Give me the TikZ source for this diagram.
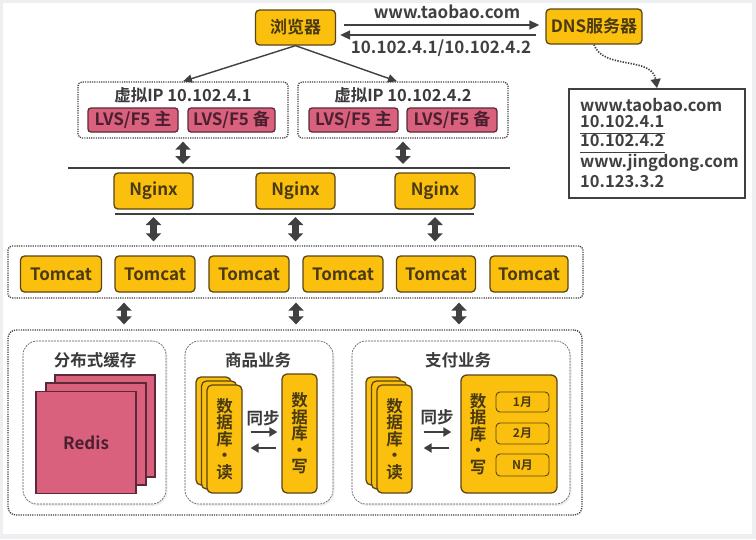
\documentclass[tikz,border=0pt]{standalone}
\usepackage{fontspec}
\setmainfont{Noto Sans CJK SC Bold}
\usetikzlibrary{arrows.meta,shadows}
\definecolor{yfill}{HTML}{FBC00E}
\definecolor{ybord}{HTML}{5A4516}
\definecolor{ytext}{HTML}{4A3A12}
\definecolor{pfill}{HTML}{D9617D}
\definecolor{pbord}{HTML}{5B2937}
\definecolor{ptext}{HTML}{4A2030}
\definecolor{dgray}{HTML}{404040}
\definecolor{bggray}{HTML}{EEEFF1}
\begin{document}
\begin{tikzpicture}[x=1pt,y=-1pt,
  ybox/.style={draw=ybord, fill=yfill, line width=1.3pt, rounded corners=4pt, text=ytext,
    font=\fontsize{17}{19}\selectfont, inner sep=0pt},
  pbox/.style={draw=pbord, fill=pfill, line width=1.3pt, rounded corners=3pt, text=ptext,
    font=\fontsize{17}{19}\selectfont, inner sep=0pt, minimum height=24pt},
  sqbox/.style={draw=pbord, fill=pfill, line width=1.5pt, text=ptext,
    font=\fontsize{17}{19}\selectfont, inner sep=0pt, minimum width=100pt, minimum height=102pt},
  dotbox/.style={draw=dgray, line width=1.3pt, dash pattern=on 1.2pt off 1.1pt, rounded corners=4pt, inner sep=0pt},
  subbox/.style={draw=dgray!90, line width=0.6pt, dash pattern=on 2pt off 1pt, rounded corners=14pt, fill=white,
    inner sep=0pt, minimum height=163pt, drop shadow={opacity=0.12, shadow xshift=1.5pt, shadow yshift=-2pt}},
  lbl/.style={text=dgray, font=\fontsize{17}{19}\selectfont, inner sep=0pt},
  ttl/.style={text=dgray!90!black, font=\fontsize{16.5}{19}\selectfont, inner sep=0pt},
  vtext/.style={align=center, font=\fontsize{16.5}{16.5}\selectfont},
  rdb/.style={ybox, minimum width=35pt, minimum height=108pt, rounded corners=5pt},
  mbox/.style={ybox, line width=0.9pt, minimum width=53pt, font=\fontsize{12}{14}\selectfont},
  arrt/.style={draw=dgray, line width=1.6pt, -{Triangle[width=9pt,length=10pt]}},
  arrs/.style={draw=dgray, line width=1.4pt, -{Triangle[width=8pt,length=9pt]}},
  arrm/.style={draw=dgray, line width=2.2pt, -{Triangle[width=9pt,length=8pt]}},
  dbl/.style={draw=dgray, line width=6.5pt, {Triangle[width=15pt,length=8pt]}-{Triangle[width=15pt,length=8pt]}},
  hline/.style={draw=dgray, line width=1.6pt},
  rectxt/.style={text=dgray, font=\fontsize{16.5}{19}\selectfont, inner sep=0pt, anchor=west}
]
\useasboundingbox (0,0) rectangle (756,539);
\fill[bggray] (0,0) rectangle (756,539);
\fill[white] (3,3) rectangle (752,534);

% top row
\node[ybox, minimum width=80pt, minimum height=35pt] (browser) at (295.5,27.5) {浏览器};
\node[ybox, minimum width=96pt, minimum height=35pt] (dns) at (594,26.5) {DNS服务器};
\draw[arrt, shorten <=8pt, shorten >=6pt] ([yshift=2.5pt]browser.east) -- ([yshift=1.5pt]dns.west);
\draw[arrt, shorten <=9pt, shorten >=4pt] ([yshift=-8.5pt]dns.west) -- ([yshift=-7.5pt]browser.east);
\node[lbl] (lab1) at (447,12) {www.taobao.com};
\node[lbl] (lab2) at (441,48) {10.102.4.1/10.102.4.2};

% DNS record
\node[draw=dgray, line width=2pt, minimum width=176pt, minimum height=109pt, inner sep=0pt] (rec) at (657,143.5) {};
\node[rectxt] (t1) at (580,105) {www.taobao.com};
\node[rectxt] (t2) at (580,122) {10.102.4.1};
\node[rectxt] (t3) at (580,141) {10.102.4.2};
\node[rectxt] (t4) at (580,163) {www.jingdong.com};
\node[rectxt] (t5) at (580,182) {10.123.3.2};
\coordinate (u1) at (0,133);
\coordinate (u2) at (0,152);
\draw[dgray, line width=1pt] (t2.west |- u1) -- (t2.east |- u1);
\draw[dgray, line width=1pt] (t3.west |- u2) -- (t3.east |- u2);
\draw[draw=dgray, line width=1.7pt, dash pattern=on 1.3pt off 1.4pt, -{Triangle[width=10pt,length=9pt]}]
  (dns.south) .. controls (603,70) and (652,56) .. (rec.north);

% virtual IP boxes
\node[dotbox, minimum width=210pt, minimum height=56pt] (vip1) at (183,110) {};
\node[dotbox, minimum width=210pt, minimum height=56pt] (vip2) at (403,110) {};
\node[ttl] (vt1) at (183,95) {虚拟IP 10.102.4.1};
\node[ttl] (vt2) at (403,95) {虚拟IP 10.102.4.2};
\node[pbox, minimum width=90pt] (lvs1) at (133,120) {LVS/F5 主};
\node[pbox, minimum width=87pt] (lvs2) at (231.5,120) {LVS/F5 备};
\node[pbox, minimum width=89pt] (lvs3) at (353.5,120) {LVS/F5 主};
\node[pbox, minimum width=90pt] (lvs4) at (452,120) {LVS/F5 备};
\draw[arrs] (browser.south) -- (vip1.north);
\draw[arrs] (browser.south) -- ([xshift=-6pt]vip2.north);

% nginx layer
\coordinate (h1a) at (68,168);
\coordinate (h1b) at (510,168);
\draw[hline] (h1a) -- (h1b);
\draw[dbl, shorten <=3pt, shorten >=4pt] (vip1.south) -- (vip1.south |- h1a);
\draw[dbl, shorten <=3pt, shorten >=4pt] (vip2.south) -- (vip2.south |- h1a);
\node[ybox, minimum width=79pt, minimum height=36pt] (ng1) at (153.5,191) {Nginx};
\node[ybox, minimum width=79pt, minimum height=36pt] (ng2) at (295.5,191) {Nginx};
\node[ybox, minimum width=80pt, minimum height=36pt] (ng3) at (435,191) {Nginx};
\coordinate (h2a) at (115,214);
\coordinate (h2b) at (474,214);
\draw[hline] (h2a) -- (h2b);

% tomcat layer
\node[dotbox, minimum width=575pt, minimum height=52pt] (tcbox) at (295.5,272) {};
\draw[dbl, shorten <=3pt, shorten >=4pt] (ng1.south |- h2a) -- (ng1.south |- tcbox.north);
\draw[dbl, shorten <=3pt, shorten >=4pt] (ng2.south |- h2a) -- (ng2.south |- tcbox.north);
\draw[dbl, shorten <=3pt, shorten >=4pt] (ng3.south |- h2a) -- (ng3.south |- tcbox.north);
\node[ybox, minimum width=81pt, minimum height=36pt] (tc1) at (61,274) {Tomcat};
\node[ybox, minimum width=80pt, minimum height=36pt] (tc2) at (155,274) {Tomcat};
\node[ybox, minimum width=80pt, minimum height=36pt] (tc3) at (249,274) {Tomcat};
\node[ybox, minimum width=80pt, minimum height=36pt] (tc4) at (343,274) {Tomcat};
\node[ybox, minimum width=79pt, minimum height=36pt] (tc5) at (436,274) {Tomcat};
\node[ybox, minimum width=78pt, minimum height=36pt] (tc6) at (529,274) {Tomcat};

% bottom layer
\node[dotbox, rounded corners=8pt, minimum width=574pt, minimum height=185pt] (bot) at (295,422.5) {};
\coordinate (c1) at (124,0);
\coordinate (c2) at (296,0);
\coordinate (c3) at (459,0);
\draw[dbl, shorten <=4pt, shorten >=5pt] (tcbox.south -| c1) -- (bot.north -| c1);
\draw[dbl, shorten <=4pt, shorten >=5pt] (tcbox.south -| c2) -- (bot.north -| c2);
\draw[dbl, shorten <=4pt, shorten >=5pt] (tcbox.south -| c3) -- (bot.north -| c3);

\node[subbox, minimum width=143pt] (cache) at (94.5,422.5) {};
\node[subbox, minimum width=148pt] (goods) at (259,422.5) {};
\node[subbox, minimum width=218pt] (pay) at (461,422.5) {};
\node[ttl] (ct) at (95,360) {分布式缓存};
\node[ttl] (gt) at (258,360) {商品业务};
\node[ttl] (pt) at (458,360) {支付业务};

% redis
\node[sqbox] (r3) at (105,426) {};
\node[sqbox] (r2) at (96,434) {};
\node[sqbox] (r1) at (86,442.5) {Redis};

% goods DBs
\node[rdb] (gr3) at (213.5,431) {};
\node[rdb] (gr2) at (219,435) {};
\node[rdb, vtext] (gr1) at (224.5,439) {数\\据\\库\\·\\读};
\node[ybox, vtext, minimum width=35pt, minimum height=119pt, rounded corners=5pt] (gw) at (299.5,433.5) {数\\据\\库\\·\\写};
\node[ttl] (gs) at (263,418) {同步};
\coordinate (ya) at (0,432);
\coordinate (yb) at (0,448);
\draw[arrm, shorten <=8pt, shorten >=4pt] (gr1.east |- ya) -- (gw.west |- ya);
\draw[arrm, shorten <=5pt, shorten >=8pt] (gw.west |- yb) -- (gr1.east |- yb);

% pay DBs
\node[rdb] (pr3) at (383.5,431) {};
\node[rdb] (pr2) at (389,435) {};
\node[rdb, vtext] (pr1) at (394.5,439) {数\\据\\库\\·\\读};
\node[ybox, minimum width=96pt, minimum height=118pt, rounded corners=6pt] (pw) at (509,434) {};
\node[vtext, text=ytext, inner sep=0pt] (pwt) at (478,434) {数\\据\\库\\·\\写};
\node[mbox, minimum height=20pt] (m1) at (522.5,402) {1月};
\node[mbox, minimum height=21pt] (m2) at (522.5,433.5) {2月};
\node[mbox, minimum height=22pt] (m3) at (522.5,465) {N月};
\node[ttl] (ps) at (437,417) {同步};
\draw[arrm, shorten <=11pt, shorten >=9pt] (pr1.east |- ya) -- (pw.west |- ya);
\draw[arrm, shorten <=11pt, shorten >=11pt] (pw.west |- yb) -- (pr1.east |- yb);
\end{tikzpicture}
\end{document}
